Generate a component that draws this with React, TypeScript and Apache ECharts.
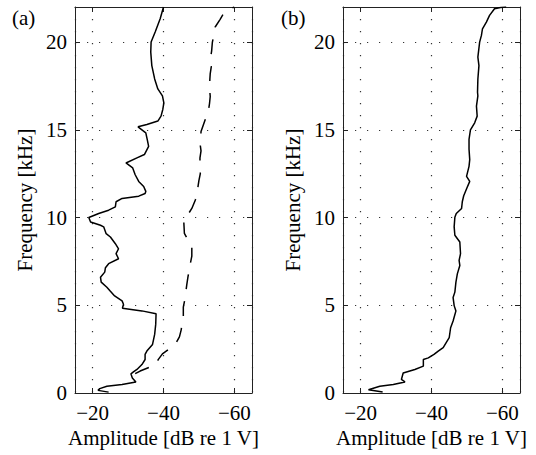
import React, { useEffect, useRef } from 'react';
import * as echarts from 'echarts';

// Panel (a), solid curve: frequency [kHz] and amplitude [dB re 1 V]
const freqASolid = [0.05, 0.15, 0.25, 0.38, 0.48, 0.63, 0.86, 1.09, 1.2, 1.34, 1.62, 1.91, 2.2, 2.39, 2.77, 3.34, 3.91, 4.52, 4.68, 4.83, 5.06, 5.25, 5.53, 5.8, 6.03, 6.32, 6.6, 6.89, 7.14, 7.37, 7.65, 7.94, 8.22, 8.51, 8.89, 9.08, 9.47, 9.56, 9.75, 10.0, 10.23, 10.42, 10.61, 10.9, 11.09, 11.22, 11.37, 11.49, 11.77, 12.06, 12.44, 12.83, 13.11, 13.4, 13.59, 14.06, 14.45, 14.83, 15.0, 15.17, 15.3, 15.5, 15.78, 16.16, 16.54, 16.93, 17.33, 17.9, 18.66, 19.43, 20.0, 20.57, 21.33, 22.0];
const ampASolid = [-24.5, -21.5, -22.0, -24.0, -28.3, -32.2, -31.2, -30.8, -31.5, -32.5, -33.9, -34.8, -34.8, -35.3, -36.9, -37.5, -37.8, -37.9, -33.9, -28.4, -28.7, -28.3, -26.2, -25.0, -24.0, -22.4, -22.2, -23.4, -23.6, -24.5, -27.3, -26.6, -27.3, -26.4, -25.0, -23.8, -23.1, -22.2, -19.4, -18.9, -21.7, -24.5, -26.4, -26.6, -28.3, -33.0, -34.8, -35.0, -34.4, -33.0, -32.0, -31.3, -29.4, -32.5, -34.6, -35.8, -35.4, -35.0, -33.9, -32.8, -35.3, -38.4, -39.3, -39.8, -40.1, -39.7, -38.4, -37.5, -36.7, -36.4, -36.5, -37.65, -39.06, -40.0];

// Panel (a), dashed curve
const freqADashed = [1.1, 1.25, 1.6, 1.9, 2.23, 2.5, 2.77, 3.2, 3.6, 3.9, 4.3, 4.9, 5.3, 5.75, 6.2, 6.6, 7.3, 7.8, 8.3, 8.7, 9.1, 9.5, 9.88, 10.2, 10.52, 11.0, 11.7, 12.1, 12.5, 13.0, 13.4, 13.8, 14.1, 14.5, 14.9, 15.3, 15.7, 16.1, 16.5, 16.9, 17.4, 17.9, 18.2, 18.6, 19.1, 19.5, 19.98, 20.4, 20.86, 21.3, 21.7, 21.9, 22.0];
const ampADashed = [-32.0, -33.4, -37.7, -38.5, -39.7, -41.5, -43.3, -44.5, -45.0, -45.2, -45.6, -45.6, -46.0, -46.3, -46.6, -46.9, -47.5, -48.0, -48.0, -47.0, -45.9, -45.8, -45.7, -47.0, -48.0, -49.0, -49.7, -50.0, -50.4, -50.3, -50.3, -50.6, -50.4, -50.5, -50.6, -51.3, -52.0, -52.7, -53.0, -53.2, -53.0, -53.1, -53.2, -53.5, -53.3, -53.6, -53.8, -54.2, -54.6, -56.0, -57.2, -59.0, -60.0];

// Panel (b), solid curve
const freqB = [0.06, 0.19, 0.38, 0.48, 0.63, 0.77, 1.14, 1.34, 1.53, 1.91, 2.0, 2.2, 2.39, 2.58, 3.15, 3.72, 4.1, 4.68, 4.98, 5.44, 5.75, 6.32, 6.79, 7.27, 7.56, 7.94, 8.61, 8.99, 9.47, 10.02, 10.23, 10.52, 10.9, 11.24, 11.68, 12.06, 12.35, 12.92, 13.3, 13.9, 14.45, 15.0, 15.4, 15.78, 16.35, 16.93, 17.14, 17.9, 18.66, 19.14, 20.0, 20.38, 20.76, 21.14, 21.52, 21.9, 21.97, 22.0];
const ampB = [-26.2, -22.2, -25.4, -29.2, -32.5, -31.5, -32.0, -35.3, -37.7, -37.7, -39.1, -40.7, -41.9, -43.3, -45.0, -45.4, -46.1, -46.9, -46.4, -46.1, -46.6, -46.9, -47.3, -48.0, -47.8, -48.2, -48.0, -46.6, -46.4, -46.6, -47.0, -48.5, -48.7, -49.1, -50.0, -50.8, -49.9, -50.6, -50.8, -50.6, -50.6, -51.0, -52.2, -52.9, -52.7, -53.1, -53.0, -53.1, -53.4, -53.1, -53.6, -54.1, -54.4, -55.5, -56.4, -57.8, -59.5, -61.1];

const panelLabels = ['(a)', '(b)'];
const xAxisName = 'Amplitude [dB re 1 V]';
const yAxisName = 'Frequency [kHz]';

const FONT = '"Liberation Serif", "Times New Roman", serif';
const FS = 21;
const AXIS_COLOR = '#222';

const zip = (f: number[], a: number[]) => f.map((v, i) => [a[i], v]);

export default function App() {
  const ref = useRef<HTMLDivElement>(null);
  useEffect(() => {
    const chart = echarts.init(ref.current!, null, { renderer: 'svg' });
    const grids = [
      { left: 75, top: 7, width: 177, height: 386 },
      { left: 343, top: 7, width: 177, height: 386 },
    ];
    const xAxes: any[] = [];
    const yAxes: any[] = [];
    [0, 1].forEach((g) => {
      [true, false].forEach((main) => {
        xAxes.push({
          type: 'value',
          gridIndex: g,
          position: main ? 'bottom' : 'top',
          inverse: true,
          min: -65,
          max: -15,
          splitNumber: 3,
          axisLine: { show: true, onZero: false, lineStyle: { color: AXIS_COLOR, width: 1 } },
          axisTick: { show: true, inside: true, length: 5, lineStyle: { color: AXIS_COLOR } },
          axisLabel: {
            show: main,
            margin: 9,
            color: '#000',
            fontFamily: FONT,
            fontSize: FS,
            formatter: (v: number) => (Math.abs(v) % 20 === 0 ? '\u2212' + Math.abs(v) : ''),
          },
          splitLine: { show: main, lineStyle: { type: [1.2, 10.8], color: '#333', width: 1.2 } },
          name: main ? xAxisName : '',
          nameLocation: 'middle',
          nameGap: 34,
          nameTextStyle: { color: '#000', fontFamily: FONT, fontSize: FS },
        });
        yAxes.push({
          type: 'value',
          gridIndex: g,
          position: main ? 'left' : 'right',
          min: 0,
          max: 22,
          interval: 5,
          axisLine: { show: true, onZero: false, lineStyle: { color: AXIS_COLOR, width: 1 } },
          axisTick: { show: true, inside: true, length: 5, lineStyle: { color: AXIS_COLOR } },
          axisLabel: {
            show: main,
            margin: 8,
            color: '#000',
            fontFamily: FONT,
            fontSize: FS,
            formatter: (v: number) => (v % 5 === 0 ? String(v) : ''),
          },
          splitLine: { show: main, lineStyle: { type: [1.2, 10.8], color: '#333', width: 1.2 } },
          name: main ? yAxisName : '',
          nameLocation: 'middle',
          nameGap: 40,
          nameTextStyle: { color: '#000', fontFamily: FONT, fontSize: FS },
        });
      });
    });

    const lineBase = {
      type: 'line',
      showSymbol: false,
      symbol: 'none',
      silent: true,
    };

    chart.setOption({
      animation: false,
      backgroundColor: '#fff',
      grid: grids,
      xAxis: xAxes,
      yAxis: yAxes,
      graphic: [
        { type: 'text', left: 12, top: 7, style: { text: panelLabels[0], fill: '#000', font: `${FS}px ${FONT}` } },
        { type: 'text', left: 281, top: 7, style: { text: panelLabels[1], fill: '#000', font: `${FS}px ${FONT}` } },
      ],
      series: [
        { ...lineBase, xAxisIndex: 0, yAxisIndex: 0, data: zip(freqASolid, ampASolid), lineStyle: { color: '#000', width: 1.5 } },
        { ...lineBase, xAxisIndex: 0, yAxisIndex: 0, data: zip(freqADashed, ampADashed), lineStyle: { color: '#000', width: 1.5, type: [15, 12] } },
        { ...lineBase, xAxisIndex: 2, yAxisIndex: 2, data: zip(freqB, ampB), lineStyle: { color: '#000', width: 1.5 } },
      ],
    });
    return () => chart.dispose();
  }, []);
  return <div ref={ref} style={{ position: 'absolute', left: 0, top: 0, width: 536, height: 455 }} />;
}
